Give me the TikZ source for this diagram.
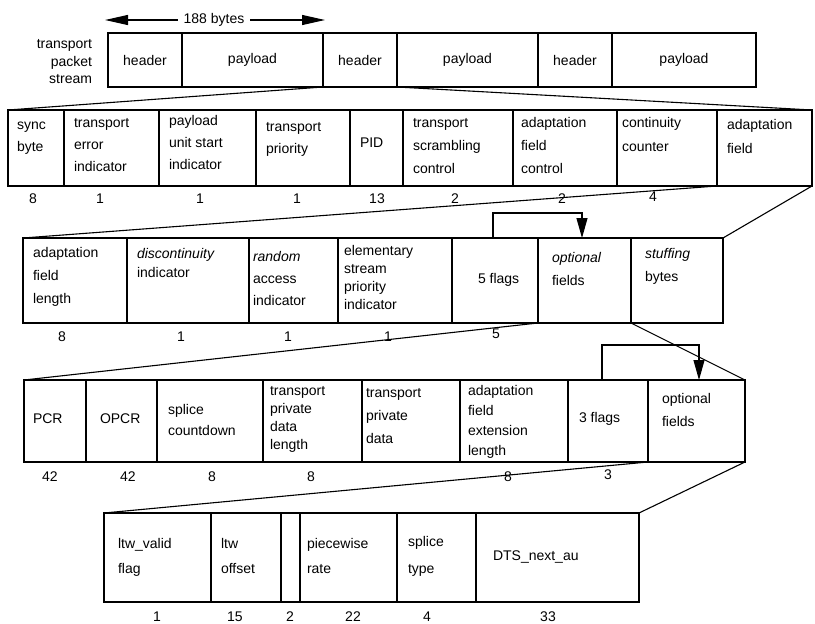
\documentclass[tikz,border=0pt]{standalone}
\usepackage{fontspec}
\setmainfont{Liberation Sans}
\usetikzlibrary{arrows.meta}
\newcommand\mkbox[6]{\node[fld,minimum width={(#3-#2)*1pt},minimum height={(#5-#4)*1pt}] (#1) at (#2,#4) {#6};}
\newcommand\lab[5]{\node[lbl=#4,anchor=north west] (#1) at (#2,#3-6.8) {\rule{0pt}{10.4pt}#5};}
\newcommand\numb[4]{\node[num] (#1) at (#2,#3) {#4};}
\begin{document}
\begin{tikzpicture}[x=1pt,y=-1pt,line width=1pt,
  fld/.style={draw,line width=1.1pt,inner sep=0pt,outer sep=0pt,anchor=north west,font=\fontsize{14}{16}\selectfont},
  lbl/.style={inner sep=0pt,outer sep=0pt,align=left,font=\fontsize{14}{#1}\selectfont},
  lbl/.default=22,
  num/.style={inner sep=0pt,outer sep=0pt,font=\fontsize{14}{16}\selectfont},
  exp/.style={line width=1.1pt},
  big/.style={line width=1.1pt,-{Triangle[length=23pt,width=10pt]}},
  dn/.style={line width=1.1pt,-{Triangle[length=20pt,width=11pt]}}]
\useasboundingbox (0,0) rectangle (815,624);
% ---- title arrow
\node[num,inner xsep=6pt] (len) at (214,20) {188 bytes};
\coordinate (lenl) at (105,20);
\coordinate (lenr) at (325,20);
\draw[big] (len) -- (lenl);
\draw[big] (len) -- (lenr);
% ---- row 1
\node[lbl=17.5,align=right,anchor=north east] (tps) at (92,45-6.8) {\rule{0pt}{10.4pt}transport\\packet\\stream};
\mkbox{h1}{108}{182}{33}{87}{header}
\mkbox{p1}{182}{323}{33}{87}{payload}
\mkbox{h2}{323}{397}{33}{87}{header}
\mkbox{p2}{397}{538}{33}{87}{payload}
\mkbox{h3}{538}{612}{33}{87}{header}
\mkbox{p3}{612}{756}{33}{87}{payload}
% ---- row 2
\mkbox{sync}{8}{64}{110}{186}{}
\mkbox{tei}{64}{159}{110}{186}{}
\mkbox{pusi}{159}{256}{110}{186}{}
\mkbox{tpri}{256}{350}{110}{186}{}
\mkbox{pid}{350}{403}{110}{186}{}
\mkbox{tsc}{403}{513}{110}{186}{}
\mkbox{afc}{513}{617}{110}{186}{}
\mkbox{cc}{617}{717}{110}{186}{}
\mkbox{af}{717}{812}{110}{186}{}
\lab{sync-l}{17}{126}{22}{sync\\byte}
\lab{tei-l}{74}{124}{22}{transport\\error\\indicator}
\lab{pusi-l}{169}{122}{22}{payload\\unit start\\indicator}
\lab{tpri-l}{266}{128}{22}{transport\\priority}
\lab{pid-l}{360}{144}{22}{PID}
\lab{tsc-l}{413}{124}{23}{transport\\scrambling\\control}
\lab{afc-l}{521}{124}{23}{adaptation\\field\\control}
\lab{cc-l}{622}{124}{24}{continuity\\counter}
\lab{af-l}{727}{126}{24}{adaptation\\field}
\numb{n2a}{33}{199}{8}
\numb{n2b}{100}{199}{1}
\numb{n2c}{200}{199}{1}
\numb{n2d}{297}{199}{1}
\numb{n2e}{377}{199}{13}
\numb{n2f}{455}{199}{2}
\numb{n2g}{562}{199}{2}
\numb{n2h}{653}{197}{4}
\draw[exp] (h2.south west) -- (sync.north west);
\draw[exp] (h2.south east) -- (af.north east);
% ---- row 3
\mkbox{afl}{23}{127}{238}{323}{}
\mkbox{disc}{127}{249}{238}{323}{}
\mkbox{ra}{249}{338}{238}{323}{}
\mkbox{espi}{338}{452}{238}{323}{}
\mkbox{f5}{452}{538}{238}{323}{}
\mkbox{op3}{538}{631}{238}{323}{}
\mkbox{stf}{631}{723}{238}{323}{}
\lab{afl-l}{33}{254}{23}{adaptation\\field\\length}
\lab{disc-l}{137}{255}{19}{\textit{discontinuity}\\indicator}
\lab{ra-l}{253}{258}{22}{\textit{random}\\access\\indicator}
\lab{espi-l}{344}{252}{18}{elementary\\stream\\priority\\indicator}
\lab{f5-l}{478}{280}{22}{5 flags}
\lab{op3-l}{552}{259}{23}{\textit{optional}\\fields}
\lab{stf-l}{645}{255}{23}{\textit{stuffing}\\bytes}
\numb{n3a}{62}{337}{8}
\numb{n3b}{181}{337}{1}
\numb{n3c}{288}{337}{1}
\numb{n3d}{388}{337}{1}
\numb{n3e}{496}{334}{5}
\draw[exp] (af.south west) -- (afl.north west);
\draw[exp] (af.south east) -- (stf.north east);
\draw[dn] ([xshift=41pt]f5.north west) -- ++(0,-25) -| ([xshift=44pt]op3.north west);
% ---- row 4
\mkbox{pcr}{24}{86}{380}{462}{}
\mkbox{opcr}{86}{157}{380}{462}{}
\mkbox{spl}{157}{263}{380}{462}{}
\mkbox{tpdl}{263}{362}{380}{462}{}
\mkbox{tpd}{362}{460}{380}{462}{}
\mkbox{afel}{460}{568}{380}{462}{}
\mkbox{f3}{568}{648}{380}{462}{}
\mkbox{op4}{648}{745}{380}{462}{}
\lab{pcr-l}{33}{420}{22}{PCR}
\lab{opcr-l}{100}{420}{22}{OPCR}
\lab{spl-l}{168}{411}{21}{splice\\countdown}
\lab{tpdl-l}{270}{392}{18}{transport\\private\\data\\length}
\lab{tpd-l}{366}{394}{23}{transport\\private\\data}
\lab{afel-l}{468}{392}{20}{adaptation\\field\\extension\\length}
\lab{f3-l}{579}{419}{22}{3 flags}
\lab{op4-l}{662}{400}{23}{optional\\fields}
\numb{n4a}{50}{477}{42}
\numb{n4b}{128}{477}{42}
\numb{n4c}{212}{477}{8}
\numb{n4d}{311}{477}{8}
\numb{n4e}{508}{477}{8}
\numb{n4f}{608}{475}{3}
\draw[exp] (op3.south west) -- (pcr.north west);
\draw[exp] (op3.south east) -- (op4.north east);
\draw[dn] ([xshift=34pt]f3.north west) -- ++(0,-35) -| ([xshift=51pt]op4.north west);
% ---- row 5
\mkbox{ltwv}{104}{211}{513}{602}{}
\mkbox{ltwo}{211}{281}{513}{602}{}
\mkbox{rsv}{281}{300}{513}{602}{}
\mkbox{pr}{300}{397}{513}{602}{}
\mkbox{st}{397}{476}{513}{602}{}
\mkbox{dts}{476}{639}{513}{602}{}
\lab{ltwv-l}{118}{545}{25}{ltw\_valid\\flag}
\lab{ltwo-l}{221}{545}{25}{ltw\\offset}
\lab{pr-l}{307}{545}{25}{piecewise\\rate}
\lab{st-l}{408}{543}{27}{splice\\type}
\lab{dts-l}{493}{557}{22}{DTS\_next\_au}
\numb{n5a}{157}{617}{1}
\numb{n5b}{235}{617}{15}
\numb{n5c}{290}{617}{2}
\numb{n5d}{353}{617}{22}
\numb{n5e}{427}{617}{4}
\numb{n5f}{548}{617}{33}
\draw[exp] (op4.south west) -- (ltwv.north west);
\draw[exp] (op4.south east) -- (dts.north east);
\end{tikzpicture}
\end{document}
